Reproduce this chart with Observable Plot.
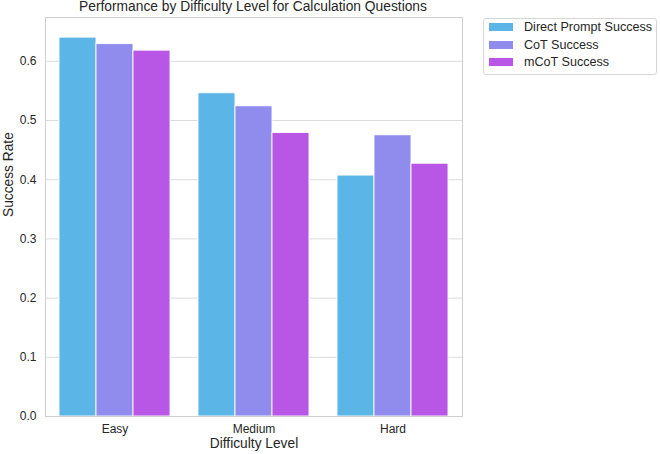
<!DOCTYPE html>
<html>
<head>
<meta charset="utf-8">
<script src="https://cdn.jsdelivr.net/npm/d3@7"></script>
<script src="https://cdn.jsdelivr.net/npm/@observablehq/plot@0.6"></script>
<style>
  html, body { margin: 0; padding: 0; background: #fff; }
  #wrap { position: relative; width: 660px; height: 454px; font-family: "Liberation Sans", Arial, sans-serif; color: #262626; }
  #wrap svg { position: absolute; left: 0; top: 0; }
  #title { position: absolute; left: 44px; width: 418px; top: -1px; text-align: center; font-size: 13.8px; line-height: 16px; }
  #legend { position: absolute; left: 483px; top: 18px; width: 174px; height: 57px; border: 1px solid #d6d6d6; border-radius: 3px; box-sizing: border-box; font-size: 12.6px; background: #fff; }
  .item { position: absolute; left: 5px; height: 16px; line-height: 16px; }
  .sw { position: absolute; left: 0; top: 4px; width: 24px; height: 8px; }
  .lab { position: absolute; left: 35px; top: 0; white-space: nowrap; }
</style>
</head>
<body>
<div id="wrap">
  <div id="title">Performance by Difficulty Level for Calculation Questions</div>
  <div id="legend"></div>
</div>
<script>
const difficulties = ["Easy", "Medium", "Hard"];
const seriesNames = ["Direct Prompt Success", "CoT Success", "mCoT Success"];
const directValues = [0.640, 0.546, 0.407];
const cotValues = [0.629, 0.524, 0.475];
const mcotValues = [0.618, 0.479, 0.427];
const colors = ["#5bb5e7", "#8f8cee", "#b857e6"];
const yTicks = [0, 0.1, 0.2, 0.3, 0.4, 0.5, 0.6];

const seriesValues = [directValues, cotValues, mcotValues];
const data = [];
difficulties.forEach((d, i) => {
  seriesNames.forEach((s, j) => {
    data.push({difficulty: d, series: s, value: seriesValues[j][i]});
  });
});

const chart = Plot.plot({
  width: 660,
  height: 454,
  marginLeft: 44,
  marginRight: 198,
  marginTop: 17,
  marginBottom: 38,
  style: {fontFamily: '"Liberation Sans", Arial, sans-serif', fontSize: "12px", color: "#262626", background: "#fff"},
  fx: {domain: difficulties, padding: 0, axis: null},
  x: {domain: seriesNames, paddingInner: 0, paddingOuter: 0.375, axis: null},
  y: {domain: [0, 0.674], axis: null},
  color: {domain: seriesNames, range: colors},
  marks: [
    Plot.ruleY(yTicks, {stroke: "#dcdcdc", strokeWidth: 1, strokeOpacity: 1}),
    Plot.barY(data, {fx: "difficulty", x: "series", y: "value", fill: "series", stroke: "white", strokeWidth: 0.9}),
    Plot.frame({facet: "super", stroke: "#cfcfcf", strokeWidth: 1}),
    Plot.axisY(yTicks, {anchor: "left", tickSize: 0, tickPadding: 9, tickFormat: d3.format(".1f"), fontSize: 12, label: null}),
    Plot.axisFx({anchor: "bottom", tickSize: 0, tickPadding: 8, fontSize: 12, label: null}),
    Plot.text(["Success Rate"], {facet: "super", frameAnchor: "left", dx: -37, rotate: -90, fontSize: 13.75, fill: "#262626"}),
    Plot.text(["Difficulty Level"], {facet: "super", frameAnchor: "bottom", dy: 31, fontSize: 13.75, fill: "#262626"})
  ]
});
document.getElementById("wrap").prepend(chart);

const legend = document.getElementById("legend");
seriesNames.forEach((s, j) => {
  const item = document.createElement("div");
  item.className = "item";
  item.style.top = (0 + j * 17.5) + "px";
  item.innerHTML = `<span class="sw" style="background:${colors[j]}"></span><span class="lab"></span>`;
  item.querySelector(".lab").textContent = s;
  legend.appendChild(item);
});
</script>
</body>
</html>
